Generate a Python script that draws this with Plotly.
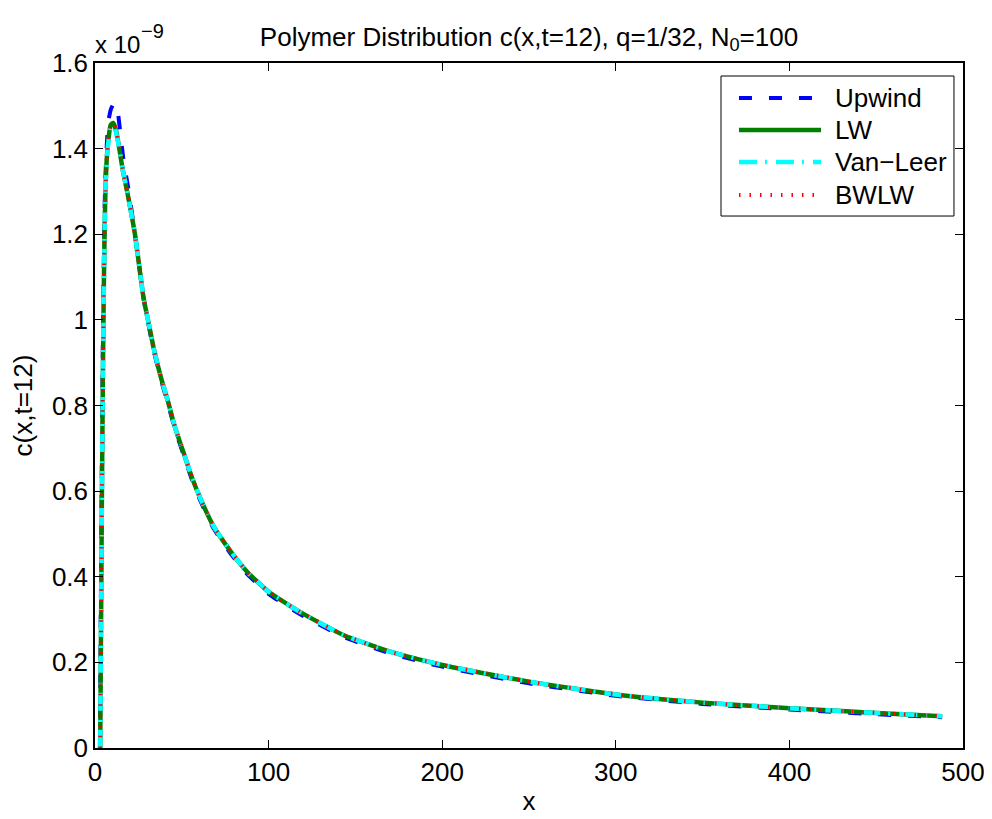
import plotly.graph_objects as go

# ---- data (y values in units of 1e-9) ----
x_upwind = [2.8, 3.3, 3.8, 4.3, 4.8, 5.3, 5.8, 6.8, 7.8, 9, 10.5, 12, 13, 14.5, 16.5, 19.5, 23, 28,
            31, 34, 38, 42, 46, 51, 56, 61, 68, 78, 88, 100, 118, 143, 170, 200, 250, 300, 350,
            400, 450, 488]
y_upwind = [0, 0.3, 0.6, 0.85, 1.05, 1.2, 1.31, 1.41, 1.465, 1.49, 1.503, 1.505, 1.49, 1.44, 1.37,
            1.30, 1.2, 1.05, 0.985, 0.925, 0.86, 0.805, 0.745, 0.685, 0.625, 0.575, 0.515, 0.455,
            0.405, 0.36, 0.313, 0.26, 0.221, 0.19, 0.151, 0.122, 0.103, 0.09, 0.079, 0.072]

x_lw = [3, 3.5, 4, 4.5, 5, 5.5, 6, 7, 8, 9, 10.5, 12, 14, 16, 19, 23, 28, 31, 34, 38, 42, 46, 51,
        56, 61, 68, 78, 88, 100, 118, 143, 170, 200, 250, 300, 350, 400, 450, 488]
y_lw = [0, 0.3, 0.6, 0.85, 1.05, 1.2, 1.3, 1.39, 1.43, 1.455, 1.46, 1.445, 1.40, 1.35, 1.29, 1.2,
        1.05, 0.99, 0.93, 0.865, 0.81, 0.75, 0.69, 0.63, 0.58, 0.52, 0.46, 0.41, 0.365, 0.318,
        0.264, 0.225, 0.194, 0.155, 0.125, 0.106, 0.093, 0.082, 0.074]

x_vl = [3, 3.5, 4, 4.5, 5, 5.5, 6, 7, 8, 9, 10.5, 12, 14, 16, 19, 23, 28, 31, 34, 38, 42, 46, 51,
        56, 61, 68, 78, 88, 100, 118, 143, 170, 200, 250, 300, 350, 400, 450, 488]
y_vl = [0, 0.3, 0.6, 0.85, 1.05, 1.2, 1.3, 1.385, 1.425, 1.45, 1.455, 1.44, 1.40, 1.35, 1.29, 1.2,
        1.05, 0.99, 0.93, 0.865, 0.81, 0.75, 0.69, 0.63, 0.58, 0.52, 0.46, 0.41, 0.365, 0.318,
        0.264, 0.225, 0.194, 0.155, 0.125, 0.106, 0.093, 0.082, 0.074]

x_bwlw = [3, 3.5, 4, 4.5, 5, 5.5, 6, 7, 8, 9, 10.5, 12, 14, 16, 19, 23, 28, 31, 34, 38, 42, 46, 51,
          56, 61, 68, 78, 88, 100, 118, 143, 170, 200, 250, 300, 350, 400, 450, 488]
y_bwlw = [0, 0.3, 0.6, 0.85, 1.05, 1.2, 1.3, 1.39, 1.43, 1.455, 1.46, 1.445, 1.40, 1.35, 1.29, 1.2,
          1.05, 0.99, 0.93, 0.865, 0.81, 0.75, 0.69, 0.63, 0.58, 0.52, 0.46, 0.41, 0.365, 0.318,
          0.264, 0.225, 0.194, 0.155, 0.125, 0.106, 0.093, 0.082, 0.074]

series_names = ["Upwind", "LW", "Van\u2212Leer", "BWLW"]
x_ticks = [0, 100, 200, 300, 400, 500]
y_ticks = [0, 0.2, 0.4, 0.6, 0.8, 1.0, 1.2, 1.4, 1.6]
y_tick_labels = ["0", "0.2", "0.4", "0.6", "0.8", "1", "1.2", "1.4", "1.6"]

FONT = "Liberation Sans, Arial, sans-serif"
FS = 26

styles = [
    dict(color="#0000ff", width=4, dash="13px,17px"),
    dict(color="#008000", width=4.5),
    dict(color="#00ffff", width=4.5, dash="18px,8px,2px,9px"),
    dict(color="#ff0000", width=4, dash="1.5px,9px"),
]

fig = go.Figure()
for name, xs, ys, st in zip(series_names, [x_upwind, x_lw, x_vl, x_bwlw],
                            [y_upwind, y_lw, y_vl, y_bwlw], styles):
    fig.add_trace(go.Scatter(x=xs, y=ys, mode="lines", name=name,
                             line=dict(st, shape="spline", smoothing=0.5), showlegend=False))

axis_common = dict(showline=True, linecolor="black", linewidth=1.5, mirror="ticks",
                   ticks="inside", ticklen=8, tickcolor="black", tickwidth=1,
                   showgrid=False, zeroline=False,
                   tickfont=dict(family=FONT, size=FS, color="black"))

fig.update_xaxes(range=[0, 500], tickvals=x_ticks,
                 title=dict(text="x", font=dict(family=FONT, size=FS, color="black"), standoff=6),
                 **axis_common)
fig.update_yaxes(range=[0, 1.6], tickvals=y_ticks, ticktext=y_tick_labels,
                 title=dict(text="c(x,t=12)", font=dict(family=FONT, size=FS, color="black"), standoff=12),
                 **axis_common)

# exponent label above the y axis
fig.add_annotation(text="x 10", xref="paper", yref="paper", x=0, y=1,
                   xanchor="left", yanchor="middle", showarrow=False, xshift=-2, yshift=19,
                   font=dict(family=FONT, size=24, color="black"))
fig.add_annotation(text="\u22129", xref="paper", yref="paper", x=0, y=1,
                   xanchor="left", yanchor="middle", showarrow=False, xshift=44, yshift=32,
                   font=dict(family=FONT, size=20, color="black"))

# ---- legend box (MATLAB style, long line samples) ----
leg_x0, leg_x1, leg_y0, leg_y1 = 0.7212, 0.9896, 0.7766, 0.9810
fig.add_shape(type="rect", xref="paper", yref="paper", x0=leg_x0, x1=leg_x1, y0=leg_y0, y1=leg_y1,
              line=dict(color="black", width=1), fillcolor="white", layer="above")
row_y = [0.9489, 0.9022, 0.8555, 0.8073]
for name, st, ry in zip(series_names, styles, row_y):
    fig.add_shape(type="line", xref="paper", yref="paper", x0=0.7419, x1=0.8364, y0=ry, y1=ry,
                  line=st, layer="above")
    fig.add_annotation(text=name, xref="paper", yref="paper", x=0.8502, y=ry,
                       xanchor="left", yanchor="middle", showarrow=False,
                       font=dict(family=FONT, size=FS, color="black"))

fig.update_layout(
    width=992, height=819,
    margin=dict(l=87, r=37, t=55, b=79),
    paper_bgcolor="white", plot_bgcolor="white",
    title=dict(text="Polymer Distribution c(x,t=12), q=1/32, N<sub>0</sub>=100",
               xref="paper", x=0.5, xanchor="center", y=0.9650, yanchor="middle",
               font=dict(family=FONT, size=FS, color="black")),
    showlegend=False,
)

fig.write_html("out.html")
